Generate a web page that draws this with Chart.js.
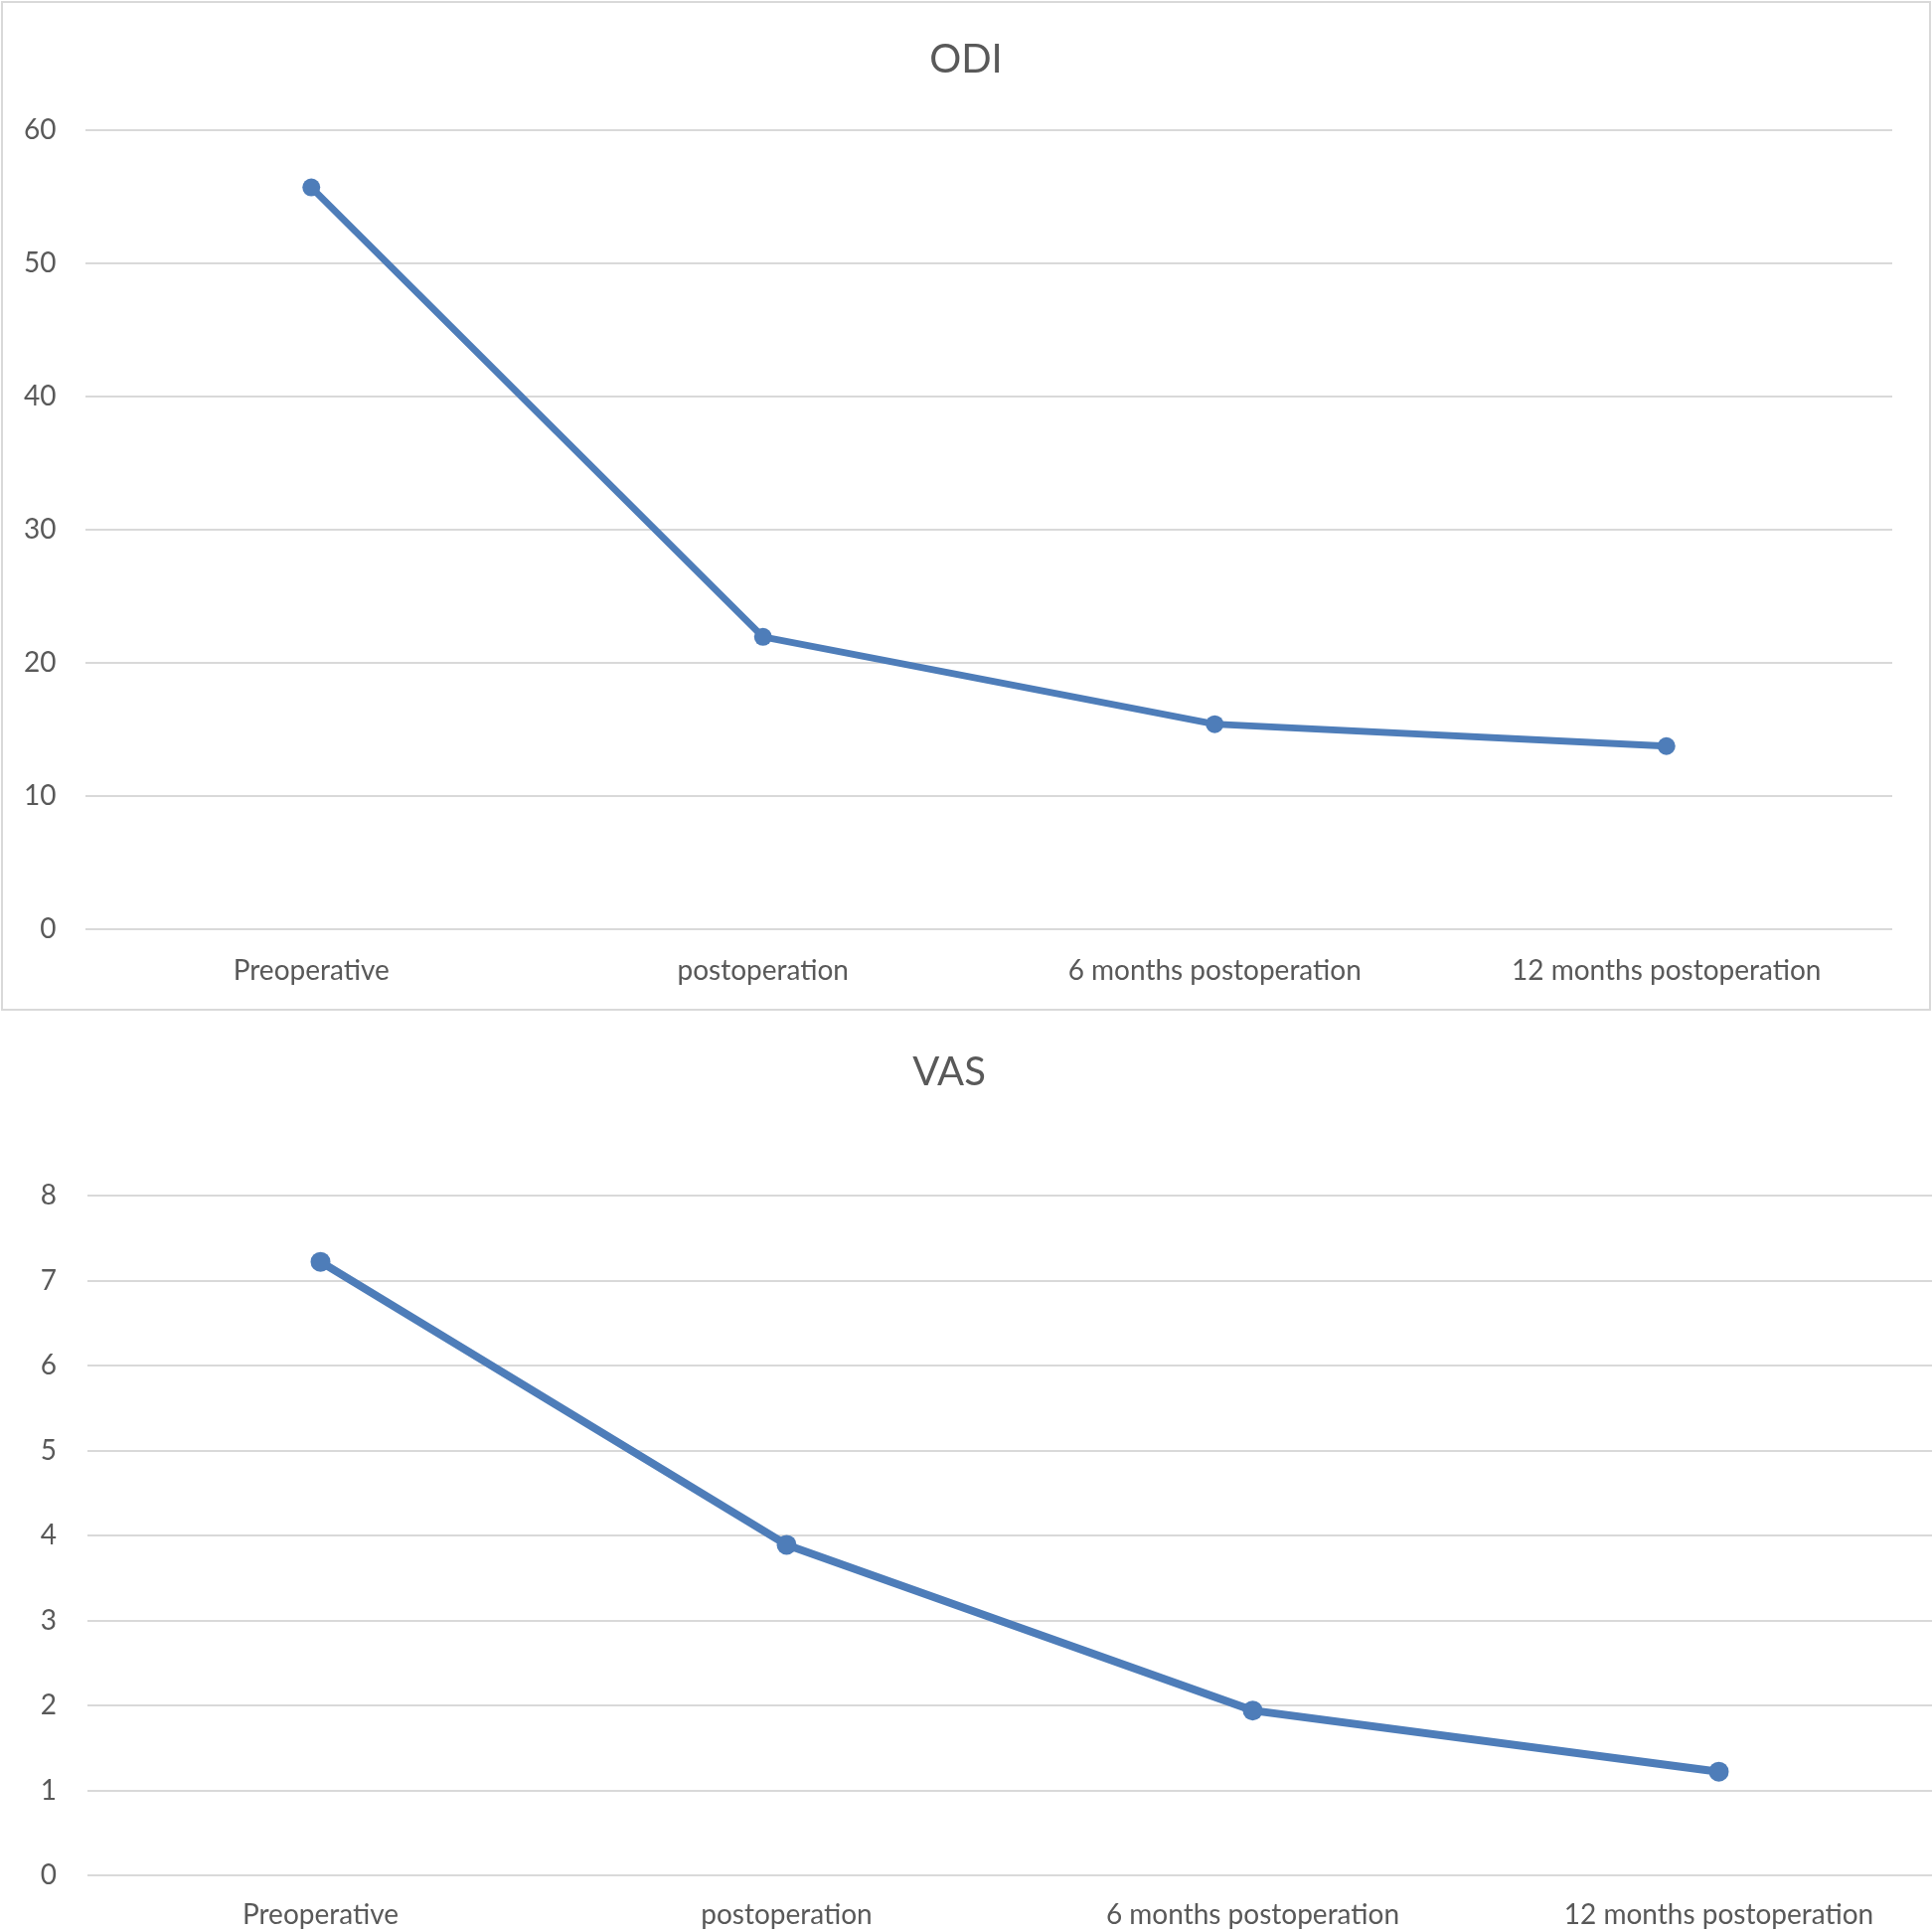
<!DOCTYPE html>
<html>
<head>
<meta charset="utf-8">
<script src="https://cdn.jsdelivr.net/npm/chart.js@4.4.0/dist/chart.umd.min.js"></script>
<style>
  html, body { margin: 0; padding: 0; background: #fff; overflow: hidden; width: 1944px; height: 1943px; }
  #box1 { position: absolute; left: 1px; top: 1px; width: 1938px; height: 1012px; border: 2px solid #d9d9d9; }
  #box2 { position: absolute; left: 0; top: 1018px; width: 1974px; height: 925px; }
  canvas { display: block; }
</style>
</head>
<body>
<div id="box1"><canvas id="odi" width="1938" height="1012"></canvas></div>
<div id="box2"><canvas id="vas" width="1974" height="925"></canvas></div>
<script>
// podaci
const categories = ['Preoperative', 'postoperation', '6 months postoperation', '12 months postoperation'];
const odiValues = [55.7, 21.95, 15.4, 13.75];
const vasValues = [7.22, 3.89, 1.94, 1.22];
const odiTicks = [0, 60, 10]; // min, max, step
const vasTicks = [0, 8, 1];

const blue = '#4e7db9';
const grey = '#595959';
const fontName = 'Lato, "Open Sans", sans-serif';

function napraviChart(id, title, values, ticks, o) {
    let ctx = document.getElementById(id).getContext('2d');
    return new Chart(ctx, {
        type: 'line',
        data: {
            labels: categories,
            datasets: [{
                data: values,
                borderColor: blue,
                backgroundColor: blue,
                borderWidth: o.lineWidth,
                pointRadius: o.pointRadius,
                pointBorderWidth: 0,
                pointBackgroundColor: blue,
                tension: 0
            }]
        },
        options: {
            responsive: false,
            animation: false,
            devicePixelRatio: 1,
            layout: { padding: o.padding },
            plugins: {
                legend: { display: false },
                tooltip: { enabled: false },
                title: {
                    display: true,
                    text: title,
                    color: grey,
                    font: { family: fontName, size: 40, weight: 'normal', lineHeight: 1.2 },
                    padding: o.titlePad
                }
            },
            scales: {
                x: {
                    offset: true,
                    grid: { display: false, drawTicks: false },
                    border: { display: false },
                    ticks: { color: grey, font: { family: fontName, size: 28 }, padding: o.xPad, maxRotation: 0, autoSkip: false },
                    afterFit: s => { s.height = o.xHeight; }
                },
                y: {
                    min: ticks[0],
                    max: ticks[1],
                    grid: { color: '#d9d9d9', lineWidth: 2, drawTicks: false },
                    border: { display: false },
                    ticks: {
                        stepSize: ticks[2], color: grey, font: { family: fontName, size: 28 },
                        padding: o.yPad, mirror: o.mirror, crossAlign: o.mirror ? 'far' : 'near'
                    },
                    afterFit: s => { s.width = o.yWidth; }
                }
            }
        }
    });
}

// gornji: oznake y ose kao mirror da naslov ostane centriran
napraviChart('odi', 'ODI', odiValues, odiTicks, {
    lineWidth: 7, pointRadius: 9,
    padding: { left: 37, right: 37, top: 0, bottom: 0 },
    titlePad: { top: 33, bottom: 47 },
    xPad: 25, xHeight: 80, yWidth: 46,
    yPad: -62, mirror: true
});

napraviChart('vas', 'VAS', vasValues, vasTicks, {
    lineWidth: 8, pointRadius: 10,
    padding: { left: -64, right: 0, top: 0, bottom: 0 },
    titlePad: { top: 37, bottom: 100 },
    xPad: 23, xHeight: 56, yWidth: 152,
    yPad: 31, mirror: false
});
</script>
</body>
</html>
